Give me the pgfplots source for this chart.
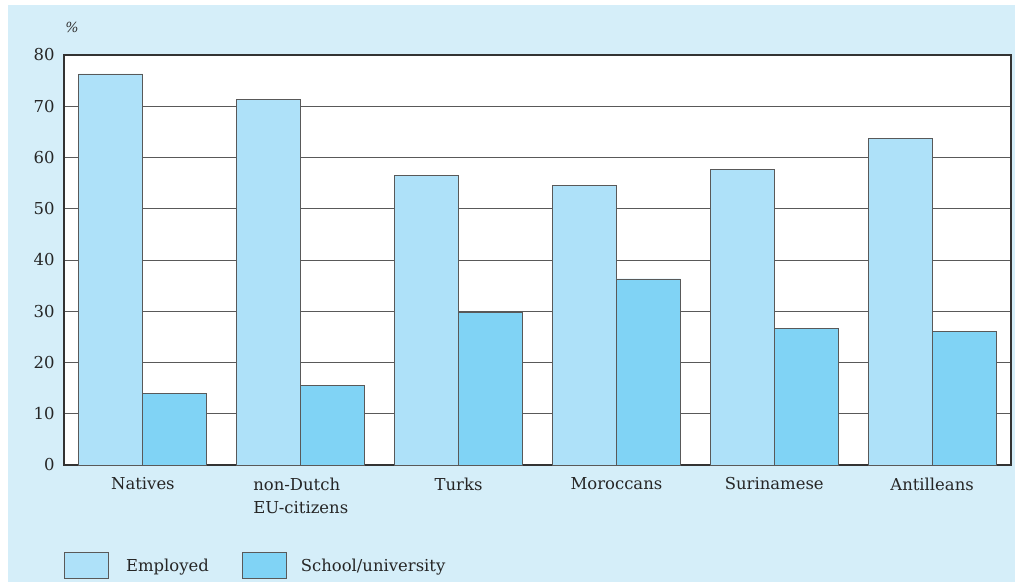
\documentclass[border=0pt]{standalone}
\usepackage{pgfplots}
\pgfplotsset{compat=1.18}
\usepackage{fontspec}
\setmainfont{DejaVu Serif}
\usetikzlibrary{calc}
\definecolor{bg}{HTML}{D5EEF9}
\definecolor{emp}{HTML}{AEE1F9}
\definecolor{sch}{HTML}{80D3F5}
\pgfdeclarelayer{bgl}
\pgfsetlayers{bgl,main}
\begin{document}
\begin{tikzpicture}[x=1bp,y=1bp]
\begin{axis}[
  name=ax,
  scale only axis, width=947bp, height=410bp,
  ymin=0, ymax=80, xmin=-0.5, xmax=5.5,
  /pgf/number format/assume math mode=true,
  ytick={0,10,...,80},
  xtick={0,...,5},
  xticklabels={Natives,{non-Dutch\\EU-citizens},Turks,Moroccans,Surinamese,Antilleans},
  xticklabel style={align=left, font=\fontsize{16.5}{24}\selectfont, text=black!85, yshift=-9bp},
  yticklabel style={font=\fontsize{16.5}{20}\selectfont, text=black!85, xshift=-6bp},
  major tick length=0pt,
  ymajorgrids,
  grid style={black!65, line width=0.9bp},
  axis line style={black!80, line width=1.1bp},
  axis background/.style={fill=white},
  ybar=0pt, bar width=64bp,
  clip=false,
  legend columns=2,
  legend style={at={(axis description cs:0,0)}, anchor=north west, yshift=-87bp, xshift=0bp,
    draw=none, fill=none, inner sep=0pt, font=\fontsize{16.5}{20}\selectfont, text=black!85,
    /tikz/every even column/.append style={column sep=25bp},
    nodes={inner xsep=8bp}},
  legend image code/.code={\draw[#1] (0bp,-13bp) rectangle (44bp,13bp);},
  legend cell align=left,
]
\addplot[fill=emp, draw=black!65, line width=0.9bp] coordinates {(0,76.3) (1,71.4) (2,56.4) (3,54.6) (4,57.6) (5,63.8)};
\addplot[fill=sch, draw=black!65, line width=0.9bp] coordinates {(0,14.0) (1,15.6) (2,29.7) (3,36.3) (4,26.7) (5,26.1)};
\legend{\hspace{9bp}Employed, \hspace{6bp}School/university}
\node[font=\fontsize{14}{16}\selectfont\itshape, text=black!80] at (axis description cs:0,1) [xshift=8bp, yshift=28bp] {\%};
\end{axis}
\begin{pgfonlayer}{bgl}
\fill[bg] ($(ax.south west)+(-56,-117)$) rectangle ($(ax.south west)+(951,460)$);
\end{pgfonlayer}
\pgfresetboundingbox
\path ($(ax.south west)+(-64,-117)$) rectangle ($(ax.south west)+(951,465)$);
\end{tikzpicture}
\end{document}
